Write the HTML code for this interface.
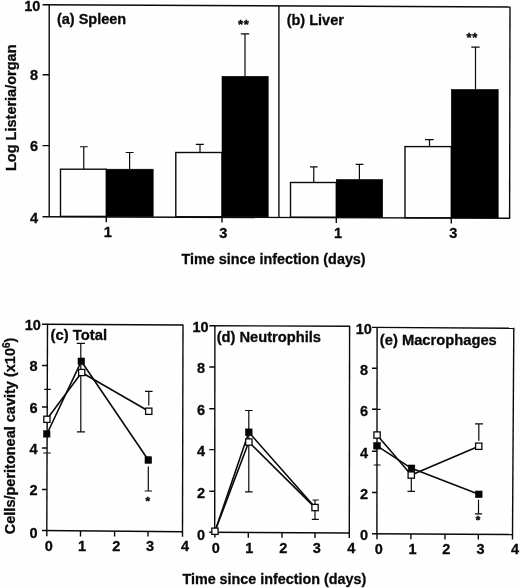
<!DOCTYPE html>
<html><head><meta charset="utf-8"><title>Figure</title>
<style>
html,body{margin:0;padding:0;background:#fefefe;}
svg{display:block;filter:grayscale(1);}
text{font-family:"Liberation Sans",sans-serif;font-weight:bold;font-size:14.5px;fill:#0a0a0a;stroke:#0a0a0a;stroke-width:0.3px;}
.ln{stroke:#0a0a0a;stroke-width:1.4;fill:none;}
.dl{stroke:#0a0a0a;stroke-width:1.6;fill:none;stroke-linejoin:round;}
.eb{stroke:#0a0a0a;stroke-width:1.2;fill:none;}
.wb{fill:#fefefe;stroke:#0a0a0a;stroke-width:1.4;}
.bb{fill:#000;stroke:#000;stroke-width:0.6;}
.ws{fill:#fefefe;stroke:#0a0a0a;stroke-width:1.3;}
.bs{fill:#050505;stroke:#050505;stroke-width:0.6;}
</style></head>
<body>
<svg width="520" height="588" viewBox="0 0 520 588">
<rect width="520" height="588" fill="#fefefe"/>

<!-- ================= TOP PANELS (a)(b) ================= -->
<g id="top">
  <!-- bars (a) -->
  <rect class="wb" x="60.5" y="169.2" width="45.8" height="47.2"/>
  <rect class="bb" x="106.3" y="169.2" width="46.9" height="47.4"/>
  <rect class="wb" x="175.8" y="152.5" width="46.2" height="64.3"/>
  <rect class="bb" x="222" y="76.3" width="46.2" height="140.6"/>
  <!-- bars (b) -->
  <rect class="wb" x="290.5" y="182.5" width="45.8" height="34.7"/>
  <rect class="bb" x="336.3" y="179.5" width="46.4" height="37.8"/>
  <rect class="wb" x="405" y="146.6" width="46.3" height="71.2"/>
  <rect class="bb" x="451.3" y="89.5" width="46.9" height="128.5"/>

  <!-- error bars -->
  <path class="eb" d="M83.75 169.2V146.75M79.9 146.75h7.8"/>
  <path class="eb" d="M129.6 169V152.5M125.7 152.5h7.9"/>
  <path class="eb" d="M200 152.5V144.3M195.8 144.3h8"/>
  <path class="eb" d="M245 76.3V33.8M240.8 33.8h8.4"/>
  <path class="eb" d="M313.75 182.5V166.8M310 166.8h7.6"/>
  <path class="eb" d="M359.4 179.5V164.3M355.7 164.3h7.6"/>
  <path class="eb" d="M429.5 146V139.6M425.1 139.6h8.6"/>
  <path class="eb" d="M475.5 89.5V47.1M471.3 47.1h8.3"/>

  <!-- frame -->
  <path class="ln" d="M42.5 4.75L510 7"/>
  <path class="ln" d="M42.5 216.7L510 218.3"/>
  <path class="ln" d="M49.2 4.2V217"/>
  <path class="ln" d="M278.9 5.8V217.3"/>
  <path class="ln" d="M510 6.6L509.6 218.6"/>
  <!-- y ticks -->
  <path class="ln" d="M42.5 74.75H49M42.5 145.6H49"/>
  <!-- x ticks -->
  <path class="ln" d="M106.3 216.5V222.2M222 216.8V222.6M336.3 217.2V223M451.3 217.8V223.4"/>

  <!-- y tick labels -->
  <text x="40.3" y="11.4" text-anchor="end">10</text>
  <text x="38.2" y="80.4" text-anchor="end">8</text>
  <text x="38.1" y="151.3" text-anchor="end">6</text>
  <text x="38.2" y="223.1" text-anchor="end">4</text>
  <!-- x tick labels -->
  <text x="107.8" y="237.4" text-anchor="middle">1</text>
  <text x="223.4" y="237.6" text-anchor="middle">3</text>
  <text x="338" y="237.8" text-anchor="middle">1</text>
  <text x="453.4" y="238.1" text-anchor="middle">3</text>

  <!-- titles -->
  <text x="56.9" y="24.1">(a) Spleen</text>
  <text x="286.7" y="25">(b) Liver</text>
  <text x="243.7" y="28.6" text-anchor="middle" style="font-size:13px;letter-spacing:0.7px;stroke:#0a0a0a;stroke-width:0.4">**</text>
  <text x="472.2" y="41.7" text-anchor="middle" style="font-size:13px;letter-spacing:0.7px;stroke:#0a0a0a;stroke-width:0.4">**</text>
  <text x="181.4" y="264.3" style="font-size:14.38px">Time since infection (days)</text>
  <text transform="translate(15.6 171) rotate(-90)">Log Listeria/organ</text>
</g>

<!-- ================= BOTTOM PANELS ================= -->
<!-- (c) Total -->
<g id="pc">
  <path class="ln" d="M42 324.25L183 325"/>
  <path class="ln" d="M42 530.5L182.6 531.75"/>
  <path class="ln" d="M47.5 323.7L46.8 531"/>
  <path class="ln" d="M183 324.5L182.5 532"/>
  <path class="ln" d="M42 365.5H47.4M42 407H47.3M42 448H47.1M42 489.5H47"/>
  <path class="ln" d="M46.8 530.6V536.3M80.5 530.9V536.4M114.6 531.2V536.5M148 531.5V536.6M182.5 531.8V536.8"/>
  <!-- error bars -->
  <path class="eb" d="M44.2 389.3H50.8M43.2 453H50.8"/>
  <path class="eb" d="M80.8 343.3V431.8M76.8 343.3H85M76.9 431.8H85"/>
  <path class="eb" d="M148.8 405.6V391.3M145 391.3H152.6"/>
  <path class="eb" d="M148.3 466.4V491M144.7 491H152.1"/>
  <!-- lines -->
  <path class="dl" d="M46.9 434L81.3 361.3L148.3 460"/>
  <path class="dl" d="M46.9 419.3L81.7 372.5L148.8 411.3"/>
  <!-- markers -->
  <rect class="bs" x="43.6" y="430.7" width="6.4" height="6.4"/>
  <rect class="bs" x="78" y="358" width="6.5" height="6.5"/>
  <rect class="bs" x="145" y="456.7" width="6.6" height="6.6"/>
  <rect class="ws" x="43.8" y="416.2" width="6.2" height="6.2"/>
  <rect class="ws" x="78.6" y="369.4" width="6.2" height="6.2"/>
  <rect class="ws" x="145.6" y="408.1" width="6.3" height="6.3"/>
  <!-- labels -->
  <text x="40.9" y="330.3" text-anchor="end">10</text>
  <text x="37.6" y="371.1" text-anchor="end">8</text>
  <text x="37.6" y="412.6" text-anchor="end">6</text>
  <text x="37.6" y="454.4" text-anchor="end">4</text>
  <text x="37.6" y="495.4" text-anchor="end">2</text>
  <text x="37.6" y="538.0" text-anchor="end">0</text>
  <text x="48.8" y="551.4" text-anchor="middle">0</text>
  <text x="82" y="551.4" text-anchor="middle">1</text>
  <text x="116.3" y="551.4" text-anchor="middle">2</text>
  <text x="150" y="551.4" text-anchor="middle">3</text>
  <text x="185" y="551.4" text-anchor="middle">4</text>
  <text x="50.6" y="339.5" style="font-size:14.8px">(c) Total</text>
  <text x="147.7" y="505.2" text-anchor="middle" style="font-size:11.5px;stroke:#0a0a0a;stroke-width:0.5">*</text>
</g>

<!-- (d) Neutrophils -->
<g id="pd">
  <path class="ln" d="M209.3 325.7L349.6 326.3"/>
  <path class="ln" d="M209.3 532.2L349.4 533"/>
  <path class="ln" d="M214.9 325.2L214.7 532.7"/>
  <path class="ln" d="M349.6 325.8L349.3 533.4"/>
  <path class="ln" d="M209.3 367H214.8M209.3 408.75H214.8M209.3 449.6H214.8M209.3 491.3H214.8"/>
  <path class="ln" d="M214.9 532.3V537.6M248.3 532.5V537.7M282 532.7V537.8M315 532.9V537.9M349.3 533V538"/>
  <!-- error bars -->
  <path class="eb" d="M248.8 410.5V491.8M245 410.5H252.6M245 491.8H252.6"/>
  <path class="eb" d="M315 500V519.3M312.5 500H318.8M311.8 519.3H318.8"/>
  <!-- lines -->
  <path class="dl" d="M215 531.3L248.8 432.2L315 507.3"/>
  <path class="dl" d="M215 531.3L248.8 442L315 507.6"/>
  <!-- markers -->
  <rect class="bs" x="245.5" y="428.9" width="6.6" height="6.6"/>
  <rect class="ws" x="245.7" y="438.9" width="6.3" height="6.3"/>
  <rect class="ws" x="211.8" y="528.1" width="6.3" height="6.3"/>
  <rect class="ws" x="311.9" y="504.4" width="6.3" height="6.3"/>
  <!-- labels -->
  <text x="208.6" y="332.4" text-anchor="end">10</text>
  <text x="205.2" y="373.3" text-anchor="end">8</text>
  <text x="205.2" y="415.0" text-anchor="end">6</text>
  <text x="205.2" y="455.9" text-anchor="end">4</text>
  <text x="205.2" y="497.6" text-anchor="end">2</text>
  <text x="205.2" y="539.8" text-anchor="end">0</text>
  <text x="215.7" y="552.6" text-anchor="middle">0</text>
  <text x="249.3" y="552.6" text-anchor="middle">1</text>
  <text x="283.3" y="552.6" text-anchor="middle">2</text>
  <text x="316.8" y="552.6" text-anchor="middle">3</text>
  <text x="351.3" y="552.6" text-anchor="middle">4</text>
  <text x="216.7" y="342" style="font-size:14.68px">(d) Neutrophils</text>
</g>

<!-- (e) Macrophages -->
<g id="pe">
  <path class="ln" d="M372 327.4L513.8 328.3"/>
  <path class="ln" d="M372 533.7L512.6 534.5"/>
  <path class="ln" d="M377.1 326.9L376.9 534.2"/>
  <path class="ln" d="M513.8 327.8L512.5 535"/>
  <path class="ln" d="M372 368.3H377M372 409.3H377M372 451.3H377M372 492.5H377"/>
  <path class="ln" d="M377 533.8V539.2M410.9 534V539.3M445 534.2V539.4M478.3 534.4V539.5M512.5 534.5V539.6"/>
  <!-- error bars -->
  <path class="eb" d="M373 409.3H380.6M373.7 465H380.6"/>
  <path class="eb" d="M411.3 475V491.3M407.5 491.3H415"/>
  <path class="eb" d="M478.8 440.8V423.8M475 423.8H483"/>
  <path class="eb" d="M478.5 499.7V513.8M474.9 513.8H482.1"/>
  <!-- lines -->
  <path class="dl" d="M377 435L411.3 475L478.8 446.3"/>
  <path class="dl" d="M377 445.8L411.5 468.3L478.8 494.3"/>
  <!-- markers -->
  <rect class="ws" x="373.9" y="431.9" width="6.3" height="6.3"/>
  <rect class="ws" x="408.1" y="471.9" width="6.3" height="6.3"/>
  <rect class="ws" x="475.6" y="443.1" width="6.3" height="6.3"/>
  <rect class="bs" x="373.7" y="442.5" width="6.6" height="6.6"/>
  <rect class="bs" x="408.2" y="465" width="6.6" height="6.6"/>
  <rect class="bs" x="475.5" y="491" width="6.6" height="6.6"/>
  <!-- labels -->
  <text x="371.8" y="333.9" text-anchor="end">10</text>
  <text x="368.2" y="374.6" text-anchor="end">8</text>
  <text x="368.2" y="415.6" text-anchor="end">6</text>
  <text x="368.2" y="457.6" text-anchor="end">4</text>
  <text x="368.2" y="498.8" text-anchor="end">2</text>
  <text x="368.2" y="540.4" text-anchor="end">0</text>
  <text x="378.8" y="554.1" text-anchor="middle">0</text>
  <text x="412.5" y="554.1" text-anchor="middle">1</text>
  <text x="446.3" y="554.1" text-anchor="middle">2</text>
  <text x="480.5" y="554.1" text-anchor="middle">3</text>
  <text x="515" y="554.1" text-anchor="middle">4</text>
  <text x="379.8" y="345" style="font-size:14.72px">(e) Macrophages</text>
  <text x="477.9" y="523.8" text-anchor="middle" style="font-size:11.5px;stroke:#0a0a0a;stroke-width:0.5">*</text>
</g>

<text x="182.4" y="583.6" style="font-size:14.35px">Time since infection (days)</text>
<text transform="translate(14.9 534.2) rotate(-90)">Cells/peritoneal cavity (x10<tspan font-size="10px" dy="-5.3">6</tspan><tspan dy="5.3">)</tspan></text>
</svg>
</body></html>
